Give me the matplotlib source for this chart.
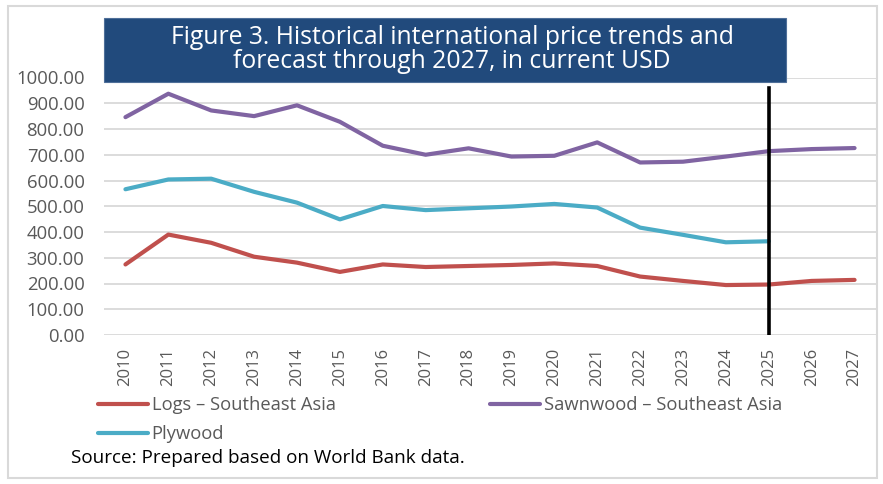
import matplotlib
matplotlib.use("Agg")
import matplotlib.pyplot as plt
from matplotlib.patches import Rectangle

years = [str(y) for y in range(2010, 2028)]
logs = [274, 390, 358, 304, 281, 245, 274, 264, 268, 272, 278, 268, 227, 210, 194, 196, 210, 214]
sawnwood = [846, 937, 872, 850, 892, 828, 735, 700, 725, 693, 696, 748, 670, 673, 693, 714, 722, 726]
plywood = [566, 604, 607, 556, 514, 449, 501, 485, 492, 499, 509, 495, 417, 389, 360, 364]
yticks = [0, 100, 200, 300, 400, 500, 600, 700, 800, 900, 1000]
forecast_year = "2025"

RED = "#C0504D"
PURPLE = "#8064A2"
CYAN = "#4BACC6"
GRAY = "#595959"
FONT = ["Open Sans", "DejaVu Sans"]

plt.rcParams["font.family"] = FONT

W, H = 883, 484
fig = plt.figure(figsize=(W / 100, H / 100), dpi=100)
fig.patch.set_facecolor("white")

# outer border
fig.add_artist(Rectangle((8 / W, 1 - 478 / H), (877 - 8) / W, (478 - 6) / H,
                         transform=fig.transFigure, fill=False,
                         edgecolor="#D9D9D9", linewidth=1.5))

left, right = 104 / W, 876 / W
bottom, top = 1 - 335 / H, 1 - 77.5 / H
ax = fig.add_axes([left, bottom, right - left, top - bottom])

x = list(range(len(years)))
l1, = ax.plot(x, logs, color=RED, lw=3.0, solid_capstyle="round", label="Logs – Southeast Asia", zorder=3)
l2, = ax.plot(x, sawnwood, color=PURPLE, lw=3.0, solid_capstyle="round", label="Sawnwood – Southeast Asia", zorder=3)
l3, = ax.plot(x[:len(plywood)], plywood, color=CYAN, lw=3.0, solid_capstyle="round", label="Plywood", zorder=3)

fx = years.index(forecast_year)
ax.plot([fx, fx], [0, 960], color="black", lw=2.6, zorder=4)

ax.set_xlim(-0.5, len(years) - 0.5)
ax.set_ylim(0, 1000)
ax.set_yticks(yticks)
ax.set_yticklabels([f"{v:.2f}" for v in yticks])
ax.set_xticks(x)
ax.set_xticklabels(years, rotation=90)
ax.tick_params(axis="y", length=0, pad=14, labelsize=13.3, labelcolor=GRAY)
ax.tick_params(axis="x", length=0, pad=9.5, labelsize=12, labelcolor=GRAY)
for s in ax.spines.values():
    s.set_visible(False)
ax.grid(axis="y", color="#D9D9D9", lw=1.3, zorder=0)
ax.set_axisbelow(True)

# title box
fig.add_artist(Rectangle((104 / W, 1 - 82 / H), (786 - 104) / W, (82 - 18) / H,
                         transform=fig.transFigure, facecolor="#214A7C",
                         edgecolor="#4F6F99", linewidth=0.8, zorder=10))
fig.text(452 / W, 1 - 44 / H, "Figure 3. Historical international price trends and",
         ha="center", va="baseline", color="white", fontsize=17.8, zorder=11)
fig.text(452 / W, 1 - 68 / H, "forecast through 2027, in current USD",
         ha="center", va="baseline", color="white", fontsize=17.8, zorder=11)

legkw = dict(loc="upper left", frameon=False, fontsize=13.2, handlelength=2.7,
             handletextpad=0.22, labelspacing=0.6, borderaxespad=0, borderpad=0)
leg1 = fig.legend(handles=[l1, l3], bbox_to_anchor=(98 / W, 1 - 396 / H), **legkw)
leg2 = fig.legend(handles=[l2], bbox_to_anchor=(490 / W, 1 - 396 / H), **legkw)
for lg in (leg1, leg2):
    for t in lg.get_texts():
        t.set_color(GRAY)

fig.text(71 / W, 1 - 458 / H, "Source: Prepared based on World Bank data.",
         ha="left", va="center", color="black", fontsize=13.6)

fig.savefig("out.png", dpi=100, facecolor="white")
